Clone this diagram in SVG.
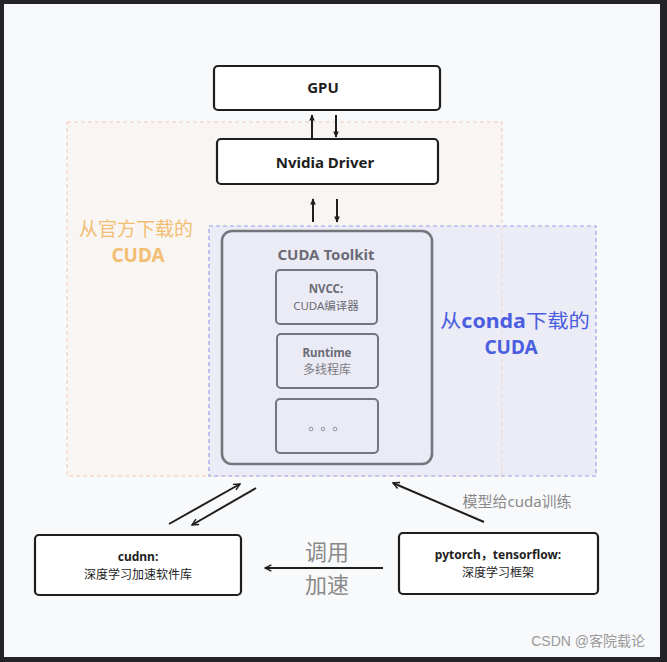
<svg xmlns="http://www.w3.org/2000/svg" width="667" height="662" viewBox="0 0 667 662">
<style>
.t{font-family:"Noto Sans","Noto Sans CJK SC",sans-serif;text-anchor:middle}
.box{fill:#ffffff;stroke:#1e1e1e;stroke-width:2.2}
.gbox{fill:none;stroke:#75757d;stroke-width:2}
.ln{stroke:#1e1e1e;stroke-width:2;fill:none}
</style>
<defs>
<marker id="ah" viewBox="0 0 10 10" refX="9" refY="5" markerWidth="8" markerHeight="8" orient="auto" markerUnits="userSpaceOnUse">
<path d="M1,1 L9,5 L1,9" fill="none" stroke="#1e1e1e" stroke-width="1.8"/>
</marker>
<marker id="ahs" viewBox="0 0 10 10" refX="8" refY="5" markerWidth="7" markerHeight="7" orient="auto" markerUnits="userSpaceOnUse">
<path d="M0,1 L9,5 L0,9 z" fill="#1e1e1e"/>
</marker>
</defs>
<rect x="0" y="0" width="667" height="662" fill="#242428"/>
<rect x="4" y="4" width="656" height="653" fill="#f8f9fb"/>

<g id="region-official">
<rect x="67" y="122" width="435" height="354" fill="#f9f5f2" stroke="#f4c7b4" stroke-width="1" stroke-dasharray="4 3"/>
</g>
<g id="region-conda">
<rect x="209" y="226" width="387" height="250" fill="#ebebf5" fill-opacity="0.95" stroke="#9aa0e8" stroke-width="1.2" stroke-dasharray="4 3"/>
<line x1="502" y1="226" x2="502" y2="476" stroke="#f0d5cc" stroke-width="1" stroke-dasharray="4 3"/>
</g>

<g id="label-official">
<text class="t" x="136" y="236" font-size="19" fill="#f2be74">从官方下载的</text>
<text class="t" x="138" y="262" font-size="19" font-weight="bold" fill="#f2be74">CUDA</text>
</g>
<g id="label-conda">
<text class="t" x="515" y="328" font-size="19" fill="#4b5de0" textLength="150" lengthAdjust="spacingAndGlyphs">从<tspan font-weight="bold">conda</tspan>下载的</text>
<text class="t" x="511" y="354" font-size="19" font-weight="bold" fill="#4b5de0">CUDA</text>
</g>

<g id="gpu">
<rect class="box" x="214" y="66" width="226" height="44" rx="4"/>
<text class="t" x="323" y="93" font-size="15" font-weight="bold" fill="#1e1e1e">GPU</text>
</g>
<g id="driver">
<rect class="box" x="217" y="139" width="221" height="45" rx="4"/>
<text class="t" x="325" y="168" font-size="15" font-weight="bold" fill="#1e1e1e">Nvidia Driver</text>
</g>

<g id="toolkit">
<rect x="222" y="231" width="210" height="233" rx="10" fill="#ebebf5" stroke="#75757d" stroke-width="2.6"/>
<text class="t" x="326" y="260" font-size="15" font-weight="bold" fill="#6b6b75">CUDA Toolkit</text>
</g>
<g id="nvcc">
<rect class="gbox" x="276" y="270" width="101" height="54" rx="4"/>
<text class="t" x="326" y="293" font-size="11.5" font-weight="bold" fill="#6b6b75">NVCC:</text>
<text class="t" x="326" y="310" font-size="11.5" fill="#6b6b75">CUDA编译器</text>
</g>
<g id="runtime">
<rect class="gbox" x="277" y="334" width="101" height="54" rx="4"/>
<text class="t" x="327" y="357" font-size="11.5" font-weight="bold" fill="#6b6b75">Runtime</text>
<text class="t" x="327" y="374" font-size="12" fill="#7a7a82">多线程库</text>
</g>
<g id="more">
<rect class="gbox" x="276" y="399" width="102" height="54" rx="4"/>
<circle cx="311" cy="429" r="1.8" fill="none" stroke="#8a8a95" stroke-width="0.9"/>
<circle cx="323" cy="429" r="1.8" fill="none" stroke="#8a8a95" stroke-width="0.9"/>
<circle cx="335" cy="429" r="1.8" fill="none" stroke="#8a8a95" stroke-width="0.9"/>
</g>

<g id="cudnn">
<rect class="box" x="35" y="535" width="206" height="60" rx="4"/>
<text class="t" x="138" y="561" font-size="12" font-weight="bold" fill="#1e1e1e">cudnn:</text>
<text class="t" x="138" y="579" font-size="12" fill="#1e1e1e">深度学习加速软件库</text>
</g>
<g id="pytorch">
<rect class="box" x="399" y="533" width="199" height="61" rx="4"/>
<text class="t" x="498" y="559" font-size="12" font-weight="bold" fill="#1e1e1e">pytorch，tensorflow:</text>
<text class="t" x="498" y="577" font-size="12" fill="#1e1e1e">深度学习框架</text>
</g>

<g id="connectors">
<line class="ln" x1="312" y1="138" x2="312" y2="115" marker-end="url(#ahs)"/>
<line class="ln" x1="336" y1="115" x2="336" y2="137" marker-end="url(#ahs)"/>
<line class="ln" x1="313" y1="222" x2="313" y2="199" marker-end="url(#ahs)"/>
<line class="ln" x1="337" y1="199" x2="337" y2="222" marker-end="url(#ahs)"/>
<line class="ln" x1="169" y1="524" x2="240" y2="484" marker-end="url(#ah)"/>
<line class="ln" x1="256" y1="488" x2="192" y2="525" marker-end="url(#ah)"/>
<line class="ln" x1="484" y1="522" x2="393" y2="483" marker-end="url(#ah)"/>
<line class="ln" x1="383" y1="568" x2="265" y2="568" marker-end="url(#ah)"/>
</g>

<g id="edge-labels">
<text class="t" x="517" y="507" font-size="15" fill="#8a8a8a">模型给cuda训练</text>
<text class="t" x="327" y="560" font-size="22" fill="#8a8a8a">调用</text>
<text class="t" x="327" y="593" font-size="22" fill="#8a8a8a">加速</text>
</g>
<text x="645" y="646" font-family="Liberation Sans,'Noto Sans CJK SC',sans-serif" font-size="14" fill="#9a9a9a" text-anchor="end">CSDN @客院载论</text>
</svg>
